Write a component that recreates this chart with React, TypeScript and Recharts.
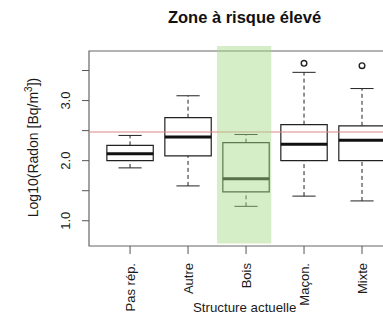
import React from "react";
import {
  ComposedChart,
  XAxis,
  YAxis,
  Scatter,
  ReferenceLine,
  ReferenceArea,
} from "recharts";

const categories = ["Pas rép.", "Autre", "Bois", "Maçon.", "Mixte"];
const positions = [1, 2, 3, 4, 5];
const whiskerLow = [1.88, 1.58, 1.24, 1.41, 1.33];
const q1 = [2.0, 2.08, 1.48, 2.0, 2.0];
const median = [2.115, 2.395, 1.7, 2.275, 2.34];
const q3 = [2.255, 2.715, 2.3, 2.6, 2.58];
const whiskerHigh = [2.42, 3.08, 2.435, 3.47, 3.2];
const outlierPos = [4, 5];
const outlierValues = [3.62, 3.58];
const yTicks = [1, 1.5, 2, 2.5, 3, 3.5];
const yLabels = [1, 2, 3];
const threshold = 2.477; // log10(300)
const highlighted = 3;

const FONT = '"Liberation Sans", Arial, sans-serif';
const BOX_HALF = 0.4;
const CAP_HALF = 0.2;
const X_DOMAIN: [number, number] = [0.292, 6.0];
const Y_DOMAIN: [number, number] = [0.58, 3.825];

const outliers = outlierPos.map((x, i) => ({ x, y: outlierValues[i] }));

const YTick = ({ y, payload }: any) => {
  if (!yLabels.includes(payload.value)) return null;
  return (
    <text
      x={70}
      y={y}
      transform={`rotate(-90, 70, ${y})`}
      textAnchor="middle"
      fontSize={13}
      fontFamily={FONT}
      fill="#1a1a1a"
    >
      {payload.value.toFixed(1)}
    </text>
  );
};

const XTick = ({ x, payload }: any) => {
  const label = categories[positions.indexOf(payload.value)];
  return (
    <text
      x={x + 4.5}
      y={263}
      transform={`rotate(-90, ${x + 4.5}, 263)`}
      textAnchor="end"
      fontSize={13}
      fontFamily={FONT}
      fill="#1a1a1a"
    >
      {label}
    </text>
  );
};

const Outlier = ({ cx, cy }: any) => (
  <circle cx={cx} cy={cy} r={2.8} fill="none" stroke="#222" strokeWidth={1.4} />
);

export default function App() {
  return (
    <div
      style={{
        position: "absolute",
        left: 0,
        top: 0,
        width: 383,
        height: 318,
        overflow: "hidden",
        background: "#fff",
      }}
    >
      <svg width={383} height={318} style={{ position: "absolute", left: 0, top: 0 }}>
        <text
          x={244.5}
          y={23.3}
          textAnchor="middle"
          fontSize={16.5}
          fontWeight="bold"
          fontFamily={FONT}
          fill="#111"
        >
          Zone à risque élevé
        </text>
        <text
          x={37.7}
          y={147.5}
          transform="rotate(-90, 37.7, 147.5)"
          textAnchor="middle"
          fontSize={14}
          fontFamily={FONT}
          fill="#1a1a1a"
        >
          Log10(Radon [Bq/m
          <tspan fontSize={10} dy={-6}>3</tspan>
          <tspan dy={6}>])</tspan>
        </text>
        <text
          x={244.7}
          y={311.5}
          textAnchor="middle"
          fontSize={13.3}
          fontFamily={FONT}
          fill="#1a1a1a"
        >
          Structure actuelle
        </text>
      </svg>
      <div style={{ position: "absolute", left: 0, top: 0 }}>
        <ComposedChart
          width={420}
          height={318}
          margin={{ top: 51, right: 0, bottom: 0, left: 0 }}
        >
          <XAxis
            type="number"
            dataKey="x"
            domain={X_DOMAIN}
            ticks={positions}
            allowDataOverflow
            height={72}
            axisLine={false}
            tickSize={8}
            tickLine={{ stroke: "#555" }}
            tick={<XTick />}
            interval={0}
          />
          <YAxis
            type="number"
            dataKey="y"
            domain={Y_DOMAIN}
            ticks={yTicks}
            allowDataOverflow
            width={89}
            axisLine={false}
            tickSize={7}
            tickLine={{ stroke: "#555" }}
            tick={<YTick />}
            interval={0}
          />
          <ReferenceArea
            x1={X_DOMAIN[0]}
            x2={X_DOMAIN[1]}
            y1={Y_DOMAIN[0]}
            y2={Y_DOMAIN[1]}
            fill="none"
            stroke="#666"
            strokeWidth={1.2}
            fillOpacity={0}
          />
          <ReferenceLine y={threshold} stroke="#e08585" strokeWidth={1.2} />
          {positions.map((p, i) => (
            <React.Fragment key={p}>
              <ReferenceLine
                segment={[{ x: p, y: whiskerLow[i] }, { x: p, y: q1[i] }]}
                stroke="#222"
                strokeDasharray="4 3"
              />
              <ReferenceLine
                segment={[{ x: p, y: q3[i] }, { x: p, y: whiskerHigh[i] }]}
                stroke="#222"
                strokeDasharray="4 3"
              />
              <ReferenceLine
                segment={[{ x: p - CAP_HALF, y: whiskerLow[i] }, { x: p + CAP_HALF, y: whiskerLow[i] }]}
                stroke="#222"
              />
              <ReferenceLine
                segment={[{ x: p - CAP_HALF, y: whiskerHigh[i] }, { x: p + CAP_HALF, y: whiskerHigh[i] }]}
                stroke="#222"
              />
              <ReferenceArea
                x1={p - BOX_HALF}
                x2={p + BOX_HALF}
                y1={q1[i]}
                y2={q3[i]}
                fill="#fff"
                fillOpacity={1}
                stroke="#222"
                strokeWidth={1.2}
              />
              <ReferenceLine
                segment={[{ x: p - BOX_HALF, y: median[i] }, { x: p + BOX_HALF, y: median[i] }]}
                stroke="#111"
                strokeWidth={3}
              />
            </React.Fragment>
          ))}
          <Scatter data={outliers} shape={<Outlier />} isAnimationActive={false} />
          <ReferenceArea
            x1={highlighted - 0.5}
            x2={highlighted + 0.435}
            y1={0.62}
            y2={3.91}
            ifOverflow="visible"
            fill="#a8da8a"
            fillOpacity={0.47}
            stroke="none"
            zIndex={1000}
          />
        </ComposedChart>
      </div>
    </div>
  );
}
